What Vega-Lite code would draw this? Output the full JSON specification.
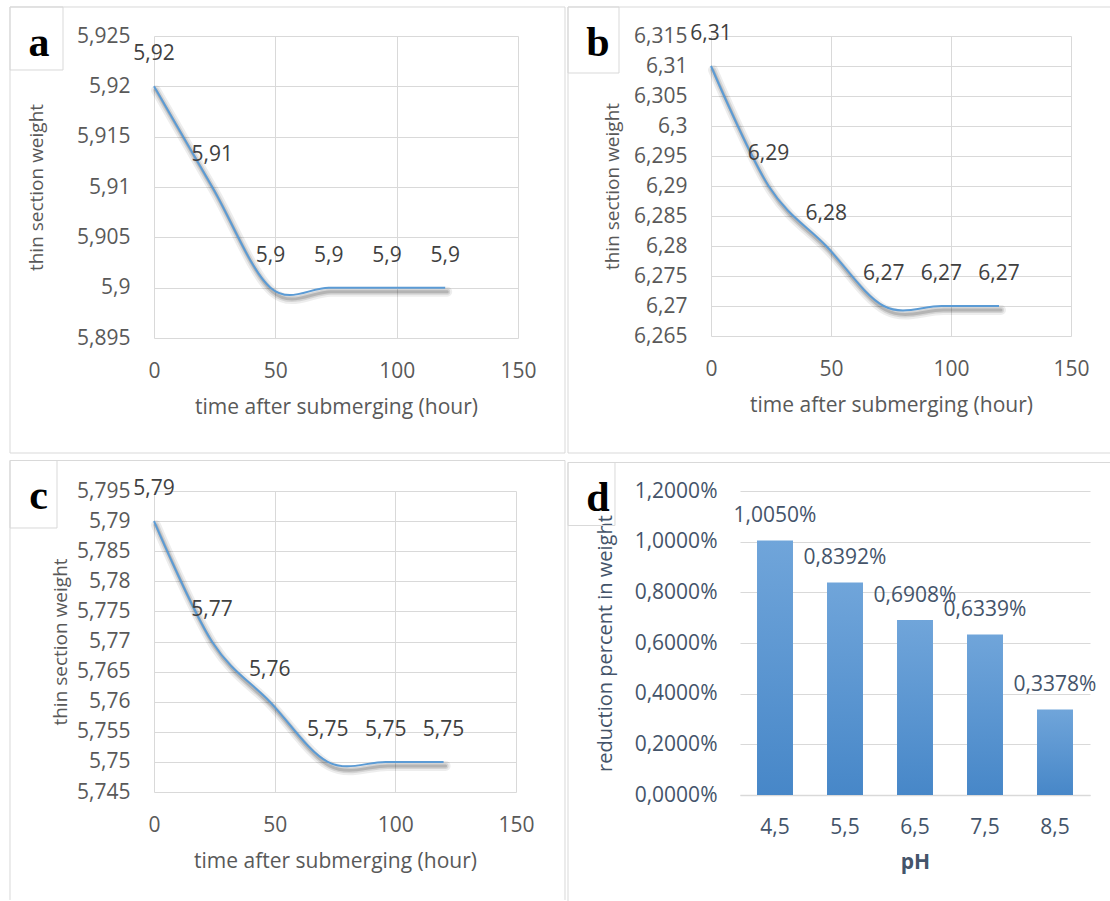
{
  "$schema": "https://vega.github.io/schema/vega-lite/v6.json",
  "padding": {"left": 9, "top": 6, "right": 0, "bottom": 0},
  "background": "white",
  "config": {
    "locale": {"number": {"decimal": ",", "thousands": ".", "grouping": [3], "currency": ["", " €"]}},
    "view": {"stroke": null},
    "font": "Open Sans",
    "axis": {"labelFont": "Open Sans", "titleFont": "Open Sans", "labelFontSize": 21, "labelColor": "#595959", "titleFontSize": 19, "titleColor": "#595959", "titleFontWeight": "normal", "gridColor": "#d9d9d9", "gridWidth": 1, "ticks": false, "domain": false, "labelFlush": false, "labelOverlap": false, "tickCount": 30}
  },
  "spacing": 6,
  "vconcat": [
    {
      "spacing": 1,
      "hconcat": [
        {
          "width": 364, "height": 302,
          "data": {"values": [{"t": 0, "w": 5.92}, {"t": 24, "w": 5.91}, {"t": 48, "w": 5.9}, {"t": 72, "w": 5.9}, {"t": 96, "w": 5.9}, {"t": 120, "w": 5.9}]},
          "layer": [
            {"data": {"values": [{}]}, "mark": {"type": "rect", "filled": false, "stroke": "#d9d9d9", "strokeWidth": 1},
             "encoding": {"x": {"datum": -59.34, "type": "quantitative", "scale": {"domain": [0, 150]}}, "x2": {"datum": 169.37},
                          "y": {"datum": 5.927881, "type": "quantitative", "scale": {"domain": [5.895, 5.925]}}, "y2": {"datum": 5.883576}}},
            {"data": {"values": [{}]}, "mark": {"type": "rect", "filled": false, "stroke": "#d9d9d9", "strokeWidth": 1},
             "encoding": {"x": {"datum": -59.34, "type": "quantitative", "scale": {"domain": [0, 150]}}, "x2": {"datum": -37.5},
                          "y": {"datum": 5.927881, "type": "quantitative", "scale": {"domain": [5.895, 5.925]}}, "y2": {"datum": 5.921623}}},
            {"data": {"values": [{}]}, "mark": {"type": "text", "text": "a", "font": "Liberation Serif", "fontWeight": "bold", "fontSize": 42, "color": "#000000", "align": "center", "baseline": "alphabetic"},
             "encoding": {"x": {"datum": -47.39, "type": "quantitative", "scale": {"domain": [0, 150]}},
                          "y": {"datum": 5.923013, "type": "quantitative", "scale": {"domain": [5.895, 5.925]}}}},
            {"mark": {"type": "line", "interpolate": "cardinal", "color": "#000000", "opacity": 0.07, "strokeWidth": 10, "xOffset": 2, "yOffset": 4, "strokeCap": "round"},
             "encoding": {"x": {"field": "t", "type": "quantitative", "scale": {"domain": [0, 150]}}, "y": {"field": "w", "type": "quantitative", "scale": {"domain": [5.895, 5.925]}}}},
            {"mark": {"type": "line", "interpolate": "cardinal", "color": "#000000", "opacity": 0.1, "strokeWidth": 6, "xOffset": 2, "yOffset": 4, "strokeCap": "round"},
             "encoding": {"x": {"field": "t", "type": "quantitative", "scale": {"domain": [0, 150]}}, "y": {"field": "w", "type": "quantitative", "scale": {"domain": [5.895, 5.925]}}}},
            {"mark": {"type": "line", "interpolate": "cardinal", "color": "#000000", "opacity": 0.15, "strokeWidth": 3, "xOffset": 2, "yOffset": 4, "strokeCap": "round"},
             "encoding": {"x": {"field": "t", "type": "quantitative", "scale": {"domain": [0, 150]}}, "y": {"field": "w", "type": "quantitative", "scale": {"domain": [5.895, 5.925]}}}},
            {"mark": {"type": "line", "interpolate": "cardinal", "color": "#5b9bd5", "strokeWidth": 2},
             "encoding": {
               "x": {"field": "t", "type": "quantitative", "scale": {"domain": [0, 150]},
                     "axis": {"title": "time after submerging (hour)", "values": [0, 50, 100, 150], "format": "d", "grid": true, "labelPadding": 22, "titlePadding": 15, "titleFontSize": 21}},
               "y": {"field": "w", "type": "quantitative", "scale": {"domain": [5.895, 5.925]},
                     "axis": {"title": "thin section weight", "values": [5.895, 5.9, 5.905, 5.91, 5.915, 5.92, 5.925], "format": ".3~f", "grid": true, "labelPadding": 24, "titlePadding": 30}}}},
            {"mark": {"type": "text", "dy": -32, "fontSize": 21, "color": "#404040", "baseline": "middle", "align": "center"},
             "encoding": {"x": {"field": "t", "type": "quantitative", "scale": {"domain": [0, 150]}}, "y": {"field": "w", "type": "quantitative", "scale": {"domain": [5.895, 5.925]}},
                          "text": {"field": "w", "type": "quantitative", "format": ".2~f"}}}
          ]
        },
        {
          "width": 360, "height": 300,
          "data": {"values": [{"t": 0, "w": 6.31}, {"t": 24, "w": 6.29}, {"t": 48, "w": 6.28}, {"t": 72, "w": 6.27}, {"t": 96, "w": 6.27}, {"t": 120, "w": 6.27}]},
          "layer": [
            {"data": {"values": [{}]}, "mark": {"type": "rule", "stroke": "#d9d9d9", "strokeWidth": 1},
             "encoding": {"x": {"datum": -59.58, "type": "quantitative", "scale": {"domain": [0, 150]}}, "x2": {"datum": 166.25},
                          "y": {"datum": 6.319833, "type": "quantitative", "scale": {"domain": [6.265, 6.315]}}}},
            {"data": {"values": [{}]}, "mark": {"type": "rule", "stroke": "#d9d9d9", "strokeWidth": 1},
             "encoding": {"x": {"datum": -59.58, "type": "quantitative", "scale": {"domain": [0, 150]}}, "x2": {"datum": 166.25},
                          "y": {"datum": 6.2455, "type": "quantitative", "scale": {"domain": [6.265, 6.315]}}}},
            {"data": {"values": [{}]}, "mark": {"type": "rule", "stroke": "#d9d9d9", "strokeWidth": 1},
             "encoding": {"x": {"datum": -59.58, "type": "quantitative", "scale": {"domain": [0, 150]}},
                          "y": {"datum": 6.319833, "type": "quantitative", "scale": {"domain": [6.265, 6.315]}}, "y2": {"datum": 6.2455}}},
            {"data": {"values": [{}]}, "mark": {"type": "rect", "filled": false, "stroke": "#d9d9d9", "strokeWidth": 1},
             "encoding": {"x": {"datum": -59.58, "type": "quantitative", "scale": {"domain": [0, 150]}}, "x2": {"datum": -38.33},
                          "y": {"datum": 6.319833, "type": "quantitative", "scale": {"domain": [6.265, 6.315]}}, "y2": {"datum": 6.308833}}},
            {"data": {"values": [{}]}, "mark": {"type": "text", "text": "b", "font": "Liberation Serif", "fontWeight": "bold", "fontSize": 42, "color": "#000000", "align": "center", "baseline": "alphabetic"},
             "encoding": {"x": {"datum": -47.08, "type": "quantitative", "scale": {"domain": [0, 150]}},
                          "y": {"datum": 6.311667, "type": "quantitative", "scale": {"domain": [6.265, 6.315]}}}},
            {"mark": {"type": "line", "interpolate": "cardinal", "color": "#000000", "opacity": 0.07, "strokeWidth": 10, "xOffset": 2, "yOffset": 4, "strokeCap": "round"},
             "encoding": {"x": {"field": "t", "type": "quantitative", "scale": {"domain": [0, 150]}}, "y": {"field": "w", "type": "quantitative", "scale": {"domain": [6.265, 6.315]}}}},
            {"mark": {"type": "line", "interpolate": "cardinal", "color": "#000000", "opacity": 0.1, "strokeWidth": 6, "xOffset": 2, "yOffset": 4, "strokeCap": "round"},
             "encoding": {"x": {"field": "t", "type": "quantitative", "scale": {"domain": [0, 150]}}, "y": {"field": "w", "type": "quantitative", "scale": {"domain": [6.265, 6.315]}}}},
            {"mark": {"type": "line", "interpolate": "cardinal", "color": "#000000", "opacity": 0.15, "strokeWidth": 3, "xOffset": 2, "yOffset": 4, "strokeCap": "round"},
             "encoding": {"x": {"field": "t", "type": "quantitative", "scale": {"domain": [0, 150]}}, "y": {"field": "w", "type": "quantitative", "scale": {"domain": [6.265, 6.315]}}}},
            {"mark": {"type": "line", "interpolate": "cardinal", "color": "#5b9bd5", "strokeWidth": 2},
             "encoding": {
               "x": {"field": "t", "type": "quantitative", "scale": {"domain": [0, 150]},
                     "axis": {"title": "time after submerging (hour)", "values": [0, 50, 100, 150], "format": "d", "grid": true, "labelPadding": 22, "titlePadding": 15, "titleFontSize": 21}},
               "y": {"field": "w", "type": "quantitative", "scale": {"domain": [6.265, 6.315]},
                     "axis": {"title": "thin section weight", "values": [6.265, 6.27, 6.275, 6.28, 6.285, 6.29, 6.295, 6.3, 6.305, 6.31, 6.315], "format": ".3~f", "grid": true, "labelPadding": 24, "titlePadding": 11}}}},
            {"mark": {"type": "text", "dy": -32, "fontSize": 21, "color": "#404040", "baseline": "middle", "align": "center"},
             "encoding": {"x": {"field": "t", "type": "quantitative", "scale": {"domain": [0, 150]}}, "y": {"field": "w", "type": "quantitative", "scale": {"domain": [6.265, 6.315]}},
                          "text": {"field": "w", "type": "quantitative", "format": ".2~f"}}}
          ]
        }
      ]
    },
    {
      "spacing": 1,
      "hconcat": [
        {
          "width": 362, "height": 301,
          "data": {"values": [{"t": 0, "w": 5.79}, {"t": 24, "w": 5.77}, {"t": 48, "w": 5.76}, {"t": 72, "w": 5.75}, {"t": 96, "w": 5.75}, {"t": 120, "w": 5.75}]},
          "layer": [
            {"data": {"values": [{}]}, "mark": {"type": "rule", "stroke": "#d9d9d9", "strokeWidth": 1},
             "encoding": {"x": {"datum": -59.67, "type": "quantitative", "scale": {"domain": [0, 150]}}, "x2": {"datum": 170.3},
                          "y": {"datum": 5.800066, "type": "quantitative", "scale": {"domain": [5.745, 5.795]}}}},
            {"data": {"values": [{}]}, "mark": {"type": "rule", "stroke": "#d9d9d9", "strokeWidth": 1},
             "encoding": {"x": {"datum": -59.67, "type": "quantitative", "scale": {"domain": [0, 150]}},
                          "y": {"datum": 5.800066, "type": "quantitative", "scale": {"domain": [5.745, 5.795]}}, "y2": {"datum": 5.72706}}},
            {"data": {"values": [{}]}, "mark": {"type": "rule", "stroke": "#d9d9d9", "strokeWidth": 1},
             "encoding": {"x": {"datum": 170.3, "type": "quantitative", "scale": {"domain": [0, 150]}},
                          "y": {"datum": 5.800066, "type": "quantitative", "scale": {"domain": [5.745, 5.795]}}, "y2": {"datum": 5.72706}}},
            {"data": {"values": [{}]}, "mark": {"type": "rect", "filled": false, "stroke": "#d9d9d9", "strokeWidth": 1},
             "encoding": {"x": {"datum": -59.67, "type": "quantitative", "scale": {"domain": [0, 150]}}, "x2": {"datum": -40.19},
                          "y": {"datum": 5.800066, "type": "quantitative", "scale": {"domain": [5.745, 5.795]}}, "y2": {"datum": 5.788854}}},
            {"data": {"values": [{}]}, "mark": {"type": "text", "text": "c", "font": "Liberation Serif", "fontWeight": "bold", "fontSize": 42, "color": "#000000", "align": "center", "baseline": "alphabetic"},
             "encoding": {"x": {"datum": -47.86, "type": "quantitative", "scale": {"domain": [0, 150]}},
                          "y": {"datum": 5.79201, "type": "quantitative", "scale": {"domain": [5.745, 5.795]}}}},
            {"mark": {"type": "line", "interpolate": "cardinal", "color": "#000000", "opacity": 0.07, "strokeWidth": 10, "xOffset": 2, "yOffset": 4, "strokeCap": "round"},
             "encoding": {"x": {"field": "t", "type": "quantitative", "scale": {"domain": [0, 150]}}, "y": {"field": "w", "type": "quantitative", "scale": {"domain": [5.745, 5.795]}}}},
            {"mark": {"type": "line", "interpolate": "cardinal", "color": "#000000", "opacity": 0.1, "strokeWidth": 6, "xOffset": 2, "yOffset": 4, "strokeCap": "round"},
             "encoding": {"x": {"field": "t", "type": "quantitative", "scale": {"domain": [0, 150]}}, "y": {"field": "w", "type": "quantitative", "scale": {"domain": [5.745, 5.795]}}}},
            {"mark": {"type": "line", "interpolate": "cardinal", "color": "#000000", "opacity": 0.15, "strokeWidth": 3, "xOffset": 2, "yOffset": 4, "strokeCap": "round"},
             "encoding": {"x": {"field": "t", "type": "quantitative", "scale": {"domain": [0, 150]}}, "y": {"field": "w", "type": "quantitative", "scale": {"domain": [5.745, 5.795]}}}},
            {"mark": {"type": "line", "interpolate": "cardinal", "color": "#5b9bd5", "strokeWidth": 2},
             "encoding": {
               "x": {"field": "t", "type": "quantitative", "scale": {"domain": [0, 150]},
                     "axis": {"title": "time after submerging (hour)", "values": [0, 50, 100, 150], "format": "d", "grid": true, "labelPadding": 22, "titlePadding": 15, "titleFontSize": 21}},
               "y": {"field": "w", "type": "quantitative", "scale": {"domain": [5.745, 5.795]},
                     "axis": {"title": "thin section weight", "values": [5.745, 5.75, 5.755, 5.76, 5.765, 5.77, 5.775, 5.78, 5.785, 5.79, 5.795], "format": ".3~f", "grid": true, "labelPadding": 24, "titlePadding": 6}}}},
            {"mark": {"type": "text", "dy": -32, "fontSize": 21, "color": "#404040", "baseline": "middle", "align": "center"},
             "encoding": {"x": {"field": "t", "type": "quantitative", "scale": {"domain": [0, 150]}}, "y": {"field": "w", "type": "quantitative", "scale": {"domain": [5.745, 5.795]}},
                          "text": {"field": "w", "type": "quantitative", "format": ".2~f"}}}
          ]
        },
        {
          "width": 350, "height": 304,
          "data": {"values": [{"pH": "4,5", "r": 0.01005}, {"pH": "5,5", "r": 0.008392}, {"pH": "6,5", "r": 0.006908}, {"pH": "7,5", "r": 0.006339}, {"pH": "8,5", "r": 0.003378}]},
          "resolve": {"scale": {"x": "independent"}, "axis": {"x": "independent"}},
          "layer": [
            {"data": {"values": [{}]}, "mark": {"type": "rule", "stroke": "#d9d9d9", "strokeWidth": 1},
             "encoding": {"x": {"datum": -1.957, "type": "quantitative", "scale": {"domain": [0.5, 5.5]}, "axis": null}, "x2": {"datum": 5.786},
                          "y": {"datum": 0.013125, "type": "quantitative", "scale": {"domain": [0, 0.012]}}}},
            {"data": {"values": [{}]}, "mark": {"type": "rule", "stroke": "#d9d9d9", "strokeWidth": 1},
             "encoding": {"x": {"datum": -1.957, "type": "quantitative", "scale": {"domain": [0.5, 5.5]}, "axis": null},
                          "y": {"datum": 0.013125, "type": "quantitative", "scale": {"domain": [0, 0.012]}}, "y2": {"datum": -0.004224}}},
            {"data": {"values": [{}]}, "mark": {"type": "rect", "filled": false, "stroke": "#d9d9d9", "strokeWidth": 1},
             "encoding": {"x": {"datum": -1.957, "type": "quantitative", "scale": {"domain": [0.5, 5.5]}, "axis": null}, "x2": {"datum": -1.286},
                          "y": {"datum": 0.013125, "type": "quantitative", "scale": {"domain": [0, 0.012]}}, "y2": {"datum": 0.010638}}},
            {"data": {"values": [{}]}, "mark": {"type": "text", "text": "d", "font": "Liberation Serif", "fontWeight": "bold", "fontSize": 42, "color": "#000000", "align": "center", "baseline": "alphabetic"},
             "encoding": {"x": {"datum": -1.529, "type": "quantitative", "scale": {"domain": [0.5, 5.5]}, "axis": null},
                          "y": {"datum": 0.011211, "type": "quantitative", "scale": {"domain": [0, 0.012]}}}},
            {
              "layer": [
                {"mark": {"type": "bar", "color": {"gradient": "linear", "x1": 0, "y1": 0, "x2": 0, "y2": 1, "stops": [{"offset": 0, "color": "#70a5da"}, {"offset": 1, "color": "#4787c8"}]}},
                 "encoding": {
                   "x": {"field": "pH", "type": "nominal", "sort": null, "scale": {"paddingInner": 0.486, "paddingOuter": 0.243},
                         "axis": {"title": "pH", "labelAngle": 0, "domain": true, "domainColor": "#d9d9d9", "domainWidth": 1.5, "labelPadding": 21, "titlePadding": 14, "labelColor": "#44546a", "titleColor": "#44546a", "titleFontWeight": "bold", "titleFontSize": 21}},
                   "y": {"field": "r", "type": "quantitative", "scale": {"domain": [0, 0.012]},
                         "axis": {"title": "reduction percent in weight", "values": [0, 0.002, 0.004, 0.006, 0.008, 0.01, 0.012], "format": ".4%", "grid": true, "labelPadding": 23, "titlePadding": 19, "titleFontSize": 20, "labelColor": "#44546a", "titleColor": "#44546a"}}}},
                {"mark": {"type": "text", "dy": -24, "fontSize": 21, "color": "#44546a", "baseline": "middle", "align": "center"},
                 "encoding": {
                   "x": {"field": "pH", "type": "nominal", "sort": null},
                   "y": {"field": "r", "type": "quantitative", "scale": {"domain": [0, 0.012]}},
                   "text": {"field": "r", "type": "quantitative", "format": ".4%"}}}
              ]
            }
          ]
        }
      ]
    }
  ]
}
